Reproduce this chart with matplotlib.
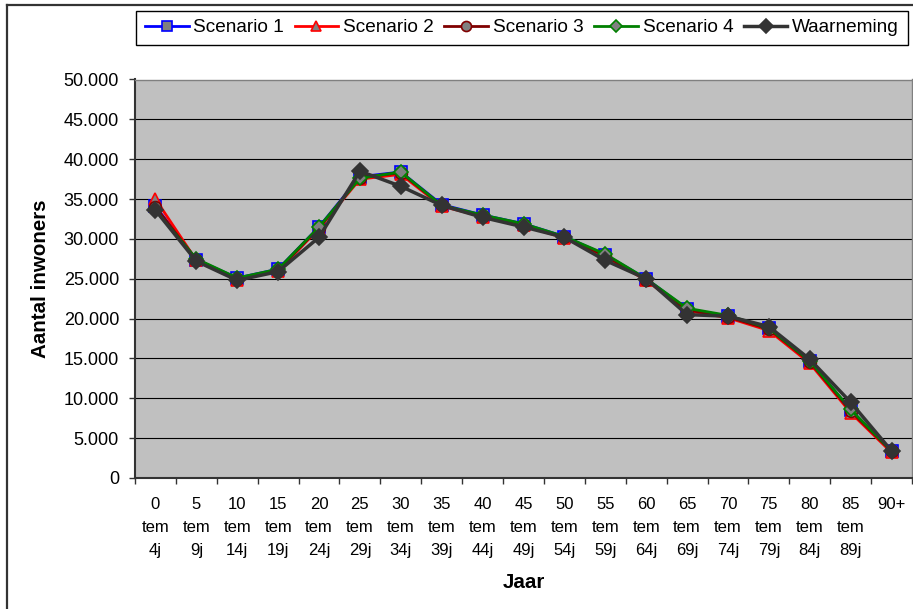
import matplotlib
matplotlib.use("Agg")
import matplotlib.pyplot as plt
from matplotlib.ticker import FuncFormatter, FixedLocator
from matplotlib.lines import Line2D

plt.rcParams['font.family'] = ['Liberation Sans', 'DejaVu Sans']

# leeftijdsklassen
categories = ['0\ntem\n4j', '5\ntem\n9j', '10\ntem\n14j', '15\ntem\n19j', '20\ntem\n24j',
              '25\ntem\n29j', '30\ntem\n34j', '35\ntem\n39j', '40\ntem\n44j', '45\ntem\n49j',
              '50\ntem\n54j', '55\ntem\n59j', '60\ntem\n64j', '65\ntem\n69j', '70\ntem\n74j',
              '75\ntem\n79j', '80\ntem\n84j', '85\ntem\n89j', '90+']

scenario_1 = [34100, 27400, 25100, 26200, 31500, 37800, 38400, 34300, 33000, 31900,
              30300, 28000, 25000, 21200, 20300, 18800, 14700, 8500, 3400]
scenario_2 = [35000, 27300, 24900, 26000, 31300, 37500, 38100, 34100, 32800, 31700,
              30100, 27800, 24800, 21000, 20100, 18500, 14400, 8200, 3200]
scenario_3 = [34000, 27400, 25000, 26100, 31400, 37700, 38300, 34200, 32900, 31800,
              30200, 27900, 24900, 21100, 20200, 18700, 14600, 8400, 3350]
scenario_4 = [33600, 27500, 25100, 26200, 31500, 37600, 38400, 34200, 33000, 31900,
              30300, 28100, 25000, 21300, 20400, 18800, 14700, 8600, 3400]
waarneming = [33600, 27200, 24800, 25900, 30200, 38500, 36600, 34200, 32700, 31500,
              30200, 27300, 25000, 20500, 20300, 19000, 14900, 9500, 3400]

W, H = 913, 609
fig = plt.figure(figsize=(W / 100, H / 100), dpi=100)
fig.patch.set_facecolor('white')

# rand om de grafiek (rechts en onder afgesneden)
fig.add_artist(Line2D([7 / W, 7 / W], [0, 1 - 5 / H], color='#333333', lw=1.6))
fig.add_artist(Line2D([7 / W, 1], [1 - 5 / H, 1 - 5 / H], color='#333333', lw=1.6))

left, right, top, bottom = 135, 912, 79.5, 478
ax = fig.add_axes([left / W, 1 - bottom / H, (right - left) / W, (bottom - top) / H])
ax.set_facecolor('#C0C0C0')

x = list(range(len(categories)))
series = [
    ('Scenario 1', scenario_1, 's', '#0000FF', 8, 2),
    ('Scenario 2', scenario_2, '^', '#FF0000', 9, 2),
    ('Scenario 3', scenario_3, 'o', '#800000', 8.5, 2),
    ('Scenario 4', scenario_4, 'D', '#008000', 7.5, 2),
    ('Waarneming', waarneming, 'D', '#333333', 8.5, 2.5),
]
handles = []
for name, vals, mk, col, ms, lw in series:
    face = '#333333' if name == 'Waarneming' else '#808080'
    h, = ax.plot(x, vals, color=col, lw=lw, marker=mk, ms=ms, mfc=face, mec=col,
                 mew=1.2, label=name, zorder=3)
    handles.append(h)

ax.set_xlim(-0.5, len(categories) - 0.5)
ax.set_ylim(0, 50000)
ax.set_yticks(range(0, 50001, 5000))
ax.yaxis.set_major_formatter(FuncFormatter(lambda v, p: f'{int(v):,}'.replace(',', '.')))
ax.grid(axis='y', color='black', lw=0.8, zorder=1)
ax.set_axisbelow(True)

# tickstreepjes tussen de klassen, labels in het midden
ax.xaxis.set_major_locator(FixedLocator([i - 0.5 for i in range(len(categories) + 1)]))
ax.xaxis.set_minor_locator(FixedLocator(x))
ax.set_xticklabels([''] * (len(categories) + 1))
ax.set_xticklabels(categories, minor=True, linespacing=1.65)
ax.tick_params(axis='x', which='major', length=4.5, width=1, color='#333333', direction='out')
ax.tick_params(axis='x', which='minor', length=0, pad=14, labelsize=12)
ax.tick_params(axis='y', length=4.5, width=1, color='#333333', pad=7, labelsize=13)

for s in ['left', 'bottom']:
    ax.spines[s].set_color('#333333')
    ax.spines[s].set_linewidth(1.5)
for s in ['top', 'right']:
    ax.spines[s].set_color('#808080')
    ax.spines[s].set_linewidth(1)

ax.set_ylabel('Aantal inwoners', fontsize=14.8, fontweight='bold')
ax.yaxis.set_label_coords(-(left - 50) / (right - left), 0.5)
fig.text((left + right) / 2 / W, 1 - 583 / H, 'Jaar', fontsize=14.8, fontweight='bold',
         ha='center', va='center')

leg = fig.legend(handles=handles, ncol=5, loc='upper right',
                 bbox_to_anchor=(907.5 / W, 1 - 10.5 / H), fontsize=13.7,
                 frameon=True, fancybox=False, edgecolor='black', framealpha=1,
                 handlelength=2.3, handletextpad=0.25, columnspacing=0.55,
                 borderpad=0.45, borderaxespad=0, markerscale=0.85)
leg.get_frame().set_linewidth(1)

fig.savefig('out.png', dpi=100)
